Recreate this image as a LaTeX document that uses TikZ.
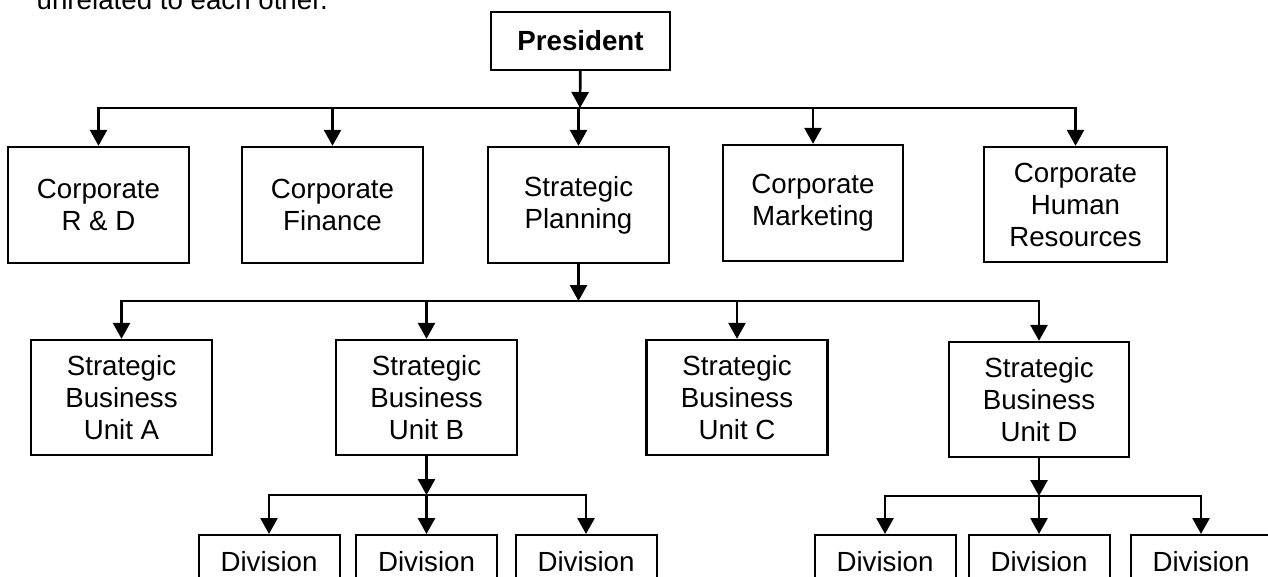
\documentclass[tikz,border=0pt]{standalone}
\usepackage{fontspec}
\setmainfont{Liberation Sans}
\usetikzlibrary{arrows.meta}

\begin{document}
\begin{tikzpicture}[x=1pt,y=-1pt,>={Triangle[width=17pt,length=16pt]},line width=2.7pt,
  every node/.style={font=\fontsize{27.7}{32}\selectfont},
  box/.style={draw,line width=2.4pt,inner sep=0pt,align=center,minimum width=181pt,minimum height=116pt},
  divbox/.style={draw,line width=2pt,anchor=north,minimum width=141pt,inner xsep=0pt,inner ysep=16pt,text height=20pt,text depth=24pt}]
  \useasboundingbox (0,0) rectangle (1268,576);
  \node[anchor=base west] (intro) at (32,9) {unrelated to each other.};
  \node[box,minimum width=179pt,minimum height=58pt,font=\fontsize{27.7}{32}\selectfont\bfseries] (pres) at (580.5,41) {President};
  % staff departments
  \node[box] (rd)   at (98.5,205)  {Corporate\\R \& D};
  \node[box] (fin)  at (332.5,205) {Corporate\\Finance};
  \node[box] (plan) at (578.5,205) {Strategic\\Planning};
  \node[box,minimum width=180pt] (mkt) at (813,203) {Corporate\\Marketing};
  \node[box,minimum width=183pt,minimum height=115pt] (hr) at (1075.5,204.5) {Corporate\\Human\\Resources};
  % business units
  \node[box,minimum height=115pt] (sbua) at (121.5,397.5) {Strategic\\Business\\Unit A};
  \node[box,minimum height=115pt] (sbub) at (426.5,397.5) {Strategic\\Business\\Unit B};
  \node[box,minimum height=115pt] (sbuc) at (737,397.5)   {Strategic\\Business\\Unit C};
  \node[box,minimum width=180pt,minimum height=115pt] (sbud) at (1039,399.5) {Strategic\\Business\\Unit D};
  % divisions
  \node[divbox] (divb1) at (269,534)    {Division};
  \node[divbox] (divb2) at (426.5,534)  {Division};
  \node[divbox] (divb3) at (586,534)    {Division};
  \node[divbox] (divd1) at (885,534)    {Division};
  \node[divbox] (divd2) at (1039,534)   {Division};
  \node[divbox] (divd3) at (1201,534)   {Division};
  \coordinate (top)  at (580,108);
  \coordinate (mid)  at (578.5,301);
  \coordinate (lowb) at (426.5,495);
  \coordinate (lowd) at (1039,496);
  \draw[->] (pres) -- (top);
  \draw[->] (top) -| (rd.north);
  \draw[->] (top) -| (hr.north);
  \foreach \n in {fin,plan,mkt} \draw[->] (\n |- top) -- (\n.north);
  \draw[->] (plan) -- (mid);
  \draw[->] (mid) -| (sbua.north);
  \draw[->] (mid) -| (sbud.north);
  \foreach \n in {sbub,sbuc} \draw[->] (\n |- mid) -- (\n.north);
  \draw[->] (sbub) -- (lowb);
  \draw[->] (lowb) -| (divb1.north);
  \draw[->] (lowb) -| (divb3.north);
  \draw[->] (lowb) -- (divb2.north);
  \draw[->] (sbud) -- (lowd);
  \draw[->] (lowd) -| (divd1.north);
  \draw[->] (lowd) -| (divd3.north);
  \draw[->] (lowd) -- (divd2.north);
\end{tikzpicture}
\end{document}
